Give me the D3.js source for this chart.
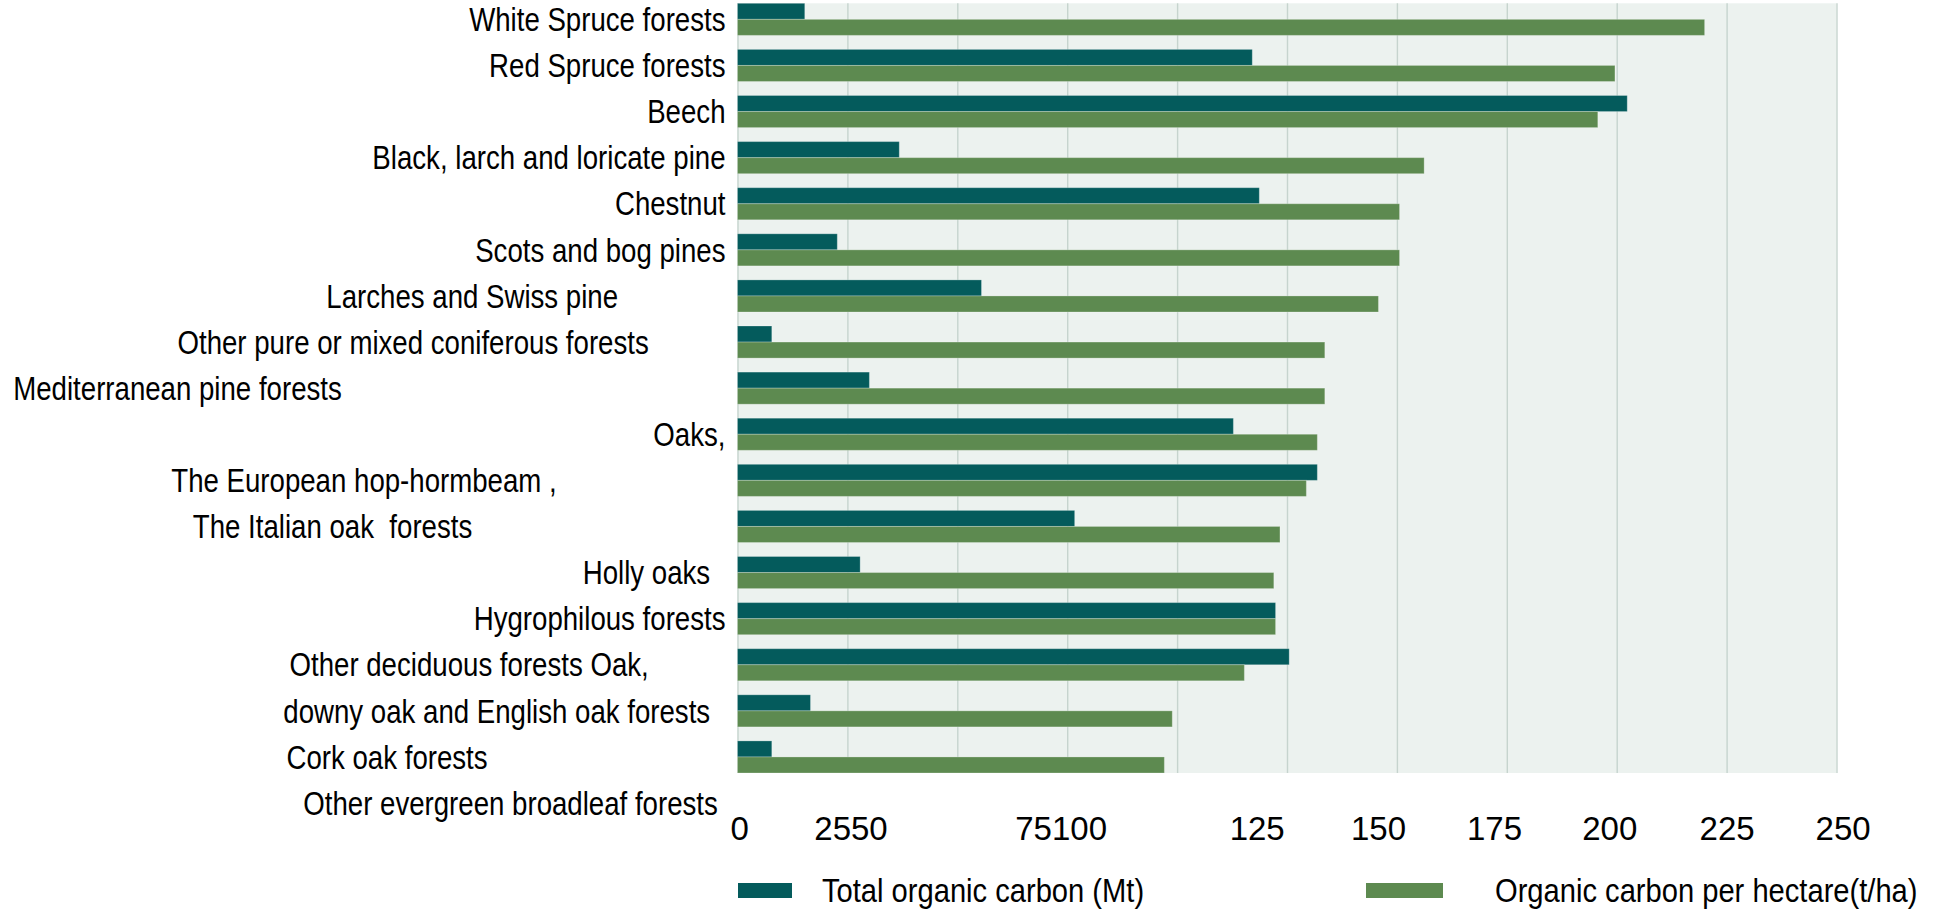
<!DOCTYPE html>
<html>
<head>
<meta charset="utf-8">
<script src="https://cdn.jsdelivr.net/npm/d3@7"></script>
<style>
  body { margin: 0; background: #fff; }
  svg { display: block; }
  .cat { font-family: "Liberation Sans", Arial, sans-serif; font-size: 32.5px; fill: #000; white-space: pre; }
  .tick text { font-family: "Liberation Sans", Arial, sans-serif; font-size: 33px; fill: #000; }
  .legend text { font-family: "Liberation Sans", Arial, sans-serif; font-size: 33.5px; fill: #000; }
</style>
</head>
<body>
<svg class="chart" width="1936" height="910"></svg>
<script>
// Category labels as they appear down the axis (trailing spaces kept from the source labels)
const categories = [
  'White Spruce forests',
  'Red Spruce forests',
  'Beech',
  'Black, larch and loricate pine',
  'Chestnut',
  'Scots and bog pines',
  'Larches and Swiss pine              ',
  'Other pure or mixed coniferous forests          ',
  'Mediterranean pine forests                                                  ',
  'Oaks,',
  'The European hop-hormbeam ,                      ',
  'The Italian oak  forests                                 ',
  'Holly oaks  ',
  'Hygrophilous forests',
  'Other deciduous forests Oak,          ',
  'downy oak and English oak forests  ',
  'Cork oak forests                               ',
  'Other evergreen broadleaf forests '
];

// Series values, one per bar row (top to bottom)
const totalCarbon = [15.3, 117.1, 202.4, 36.8, 118.7, 22.7, 55.5, 7.8, 30.0, 112.8, 131.9, 76.7, 27.9, 122.4, 125.5, 16.6, 7.8];
const carbonPerHa = [220.0, 199.6, 195.7, 156.2, 150.6, 150.6, 145.8, 133.6, 133.6, 131.9, 129.4, 123.4, 122.0, 122.4, 115.3, 98.9, 97.1];

const seriesNames = ['Total organic carbon (Mt)', 'Organic carbon per hectare(t/ha)'];
const seriesColors = ['#045b5c', '#5d8a50'];

// Axis: gridlines every 25, tick labels as printed in the source
const gridValues = d3.range(0, 251, 25);
const tickLabels = ['0', '2550', '75100', '125', '150', '175', '200', '225', '250'];
const tickAt = [0.4, 25.7, 73.5, 118.1, 145.7, 172.1, 198.3, 225, 251.4];

const plot = { left: 737.5, right: 1836.5, top: 3.3, bottom: 773 };

const svg = d3.select('.chart');

const rows = d3.range(totalCarbon.length);

const x = d3.scaleLinear().domain([0, 250]).range([plot.left, plot.right]);
const y = d3.scaleBand().domain(rows).range([plot.top, plot.bottom]).paddingInner(0.304).paddingOuter(0);
const sub = d3.scaleBand().domain([0, 1]).range([0, y.bandwidth()]);

// Plot background
svg.append('rect')
  .attr('x', plot.left).attr('y', plot.top)
  .attr('width', plot.right - plot.left).attr('height', plot.bottom - plot.top)
  .attr('fill', '#ecf2ef');

// Gridlines
svg.append('g')
  .attr('class', 'grid')
  .attr('transform', `translate(0,${plot.bottom})`)
  .call(d3.axisBottom(x).tickValues(gridValues).tickSize(-(plot.bottom - plot.top)).tickFormat(''))
  .call(g => g.select('.domain').remove())
  .call(g => g.selectAll('line').attr('stroke', '#c6d4ce').attr('stroke-width', 1.4));

// Bars
const series = [totalCarbon, carbonPerHa];
const group = svg.append('g').attr('class', 'bars');
series.forEach((vals, s) => {
  group.selectAll(`.s${s}`)
    .data(rows)
    .enter()
    .append('rect')
    .attr('class', `s${s}`)
    .attr('x', x(0))
    .attr('y', i => y(i) + sub(s))
    .attr('width', i => x(vals[i]) - x(0))
    .attr('height', sub.bandwidth())
    .attr('fill', seriesColors[s])
    .attr('stroke', 'rgba(255,255,255,0.25)')
    .attr('stroke-width', 1);
});

// Category labels, one band apart, centred on each bar pair (narrow face: squeeze horizontally)
const labelY = i => y(0) + y.bandwidth() / 2 + i * y.step();
svg.append('g')
  .selectAll('text')
  .data(categories)
  .enter()
  .append('text')
  .attr('class', 'cat')
  .attr('transform', (d, i) => `translate(${plot.left - 12},${labelY(i)}) scale(0.85,1)`)
  .attr('dy', '0.36em')
  .attr('text-anchor', 'end')
  .text(d => d);

// X axis labels
svg.append('g')
  .attr('transform', `translate(0,${plot.bottom})`)
  .call(d3.axisBottom(x).tickValues(tickAt).tickSize(0).tickPadding(44).tickFormat((d, i) => tickLabels[i]))
  .call(g => g.select('.domain').remove());

// Legend
const legendPos = [
  { sx: 738, sw: 54, tx: 822 },
  { sx: 1366, sw: 77, tx: 1495 }
];
const legend = svg.append('g').attr('class', 'legend');
seriesNames.forEach((name, s) => {
  legend.append('rect')
    .attr('x', legendPos[s].sx).attr('y', 883)
    .attr('width', legendPos[s].sw).attr('height', 15)
    .attr('fill', seriesColors[s]);
  legend.append('text')
    .attr('transform', `translate(${legendPos[s].tx},902) scale(0.87,1)`)
    .text(name);
});
</script>
</body>
</html>
